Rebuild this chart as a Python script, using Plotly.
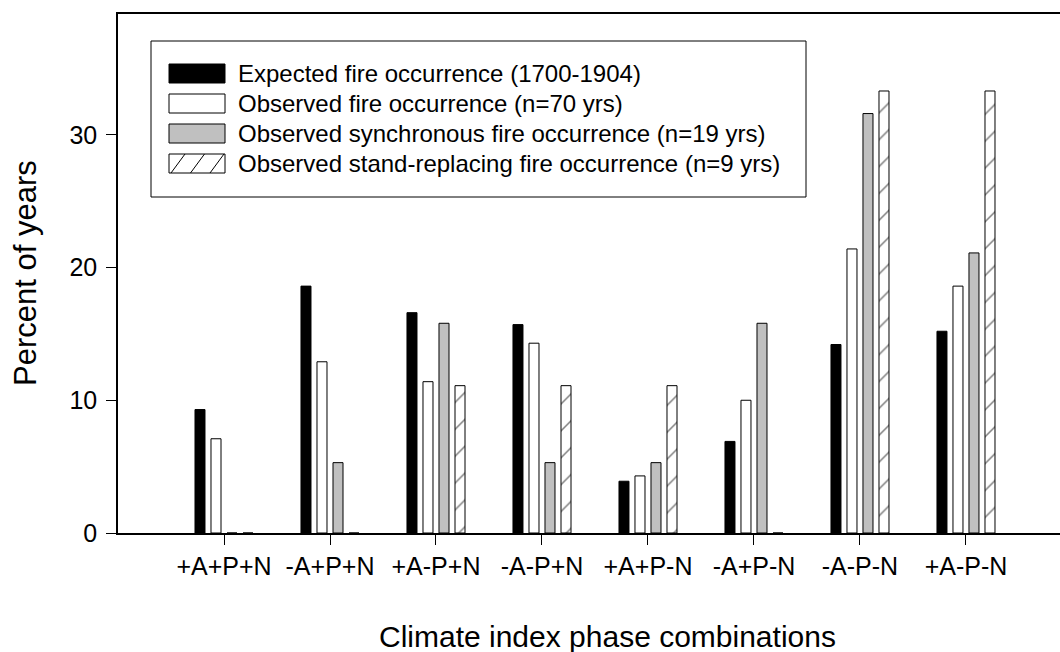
import plotly.graph_objects as go

# ---- data ----
categories = ["+A+P+N", "-A+P+N", "+A-P+N", "-A-P+N", "+A+P-N", "-A+P-N", "-A-P-N", "+A-P-N"]
expected = [9.3, 18.6, 16.6, 15.7, 3.9, 6.9, 14.2, 15.2]
observed = [7.1, 12.9, 11.4, 14.3, 4.3, 10.0, 21.4, 18.6]
synchronous = [0, 5.3, 15.8, 5.3, 5.3, 15.8, 31.6, 21.1]
stand_replacing = [0, 0, 11.1, 11.1, 11.1, 0, 33.3, 33.3]
series_names = [
    "Expected fire occurrence (1700-1904)",
    "Observed fire occurrence (n=70 yrs)",
    "Observed synchronous fire occurrence (n=19 yrs)",
    "Observed stand-replacing fire occurrence (n=9 yrs)",
]
y_ticks = [0, 10, 20, 30]

FONT = "Liberation Sans, Arial, sans-serif"
W, H = 1060, 652
ML, MR, MT, MB = 118, 0, 14, 119
PW, PH = W - ML - MR, H - MT - MB


def px2x(px):
    return (px - ML) / PW


def px2y(py):
    return (H - MB - py) / PH


fig = go.Figure()
line = dict(color="black", width=1)
fig.add_trace(go.Bar(x=categories, y=expected, name=series_names[0],
                     marker=dict(color="black", line=line)))
fig.add_trace(go.Bar(x=categories, y=observed, name=series_names[1],
                     marker=dict(color="white", line=line)))
fig.add_trace(go.Bar(x=categories, y=synchronous, name=series_names[2],
                     marker=dict(color="#c0c0c0", line=line)))
fig.add_trace(go.Bar(x=categories, y=stand_replacing, name=series_names[3],
                     marker=dict(color="white", line=line,
                                 pattern=dict(shape="/", size=19, solidity=0.08,
                                              fgcolor="black", bgcolor="white",
                                              fillmode="overlay"))))

fig.update_traces(showlegend=False)

# ---- custom legend (box, swatches, labels) ----
shapes = []
annotations = []
shapes.append(dict(type="rect", xref="paper", yref="paper",
                   x0=px2x(151), x1=px2x(806), y0=px2y(197), y1=px2y(41),
                   line=dict(color="black", width=1), fillcolor="white", layer="above"))
row_centers = [73.5, 103.5, 133.5, 163.5]
fills = ["black", "white", "#c0c0c0", "white"]
sx0, sx1 = 169, 225
for i, (c, f) in enumerate(zip(row_centers, fills)):
    shapes.append(dict(type="rect", xref="paper", yref="paper",
                       x0=px2x(sx0), x1=px2x(sx1), y0=px2y(c + 9.5), y1=px2y(c - 9.5),
                       line=dict(color="black", width=1), fillcolor=f, layer="above"))
    annotations.append(dict(xref="paper", yref="paper", x=px2x(236), y=px2y(c),
                            xanchor="left", yanchor="middle", showarrow=False,
                            text=series_names[i], font=dict(family=FONT, size=24, color="black")))
# hatch lines inside the fourth swatch
c = row_centers[3]
for x0 in [171, 190.5, 210]:
    shapes.append(dict(type="line", xref="paper", yref="paper",
                       x0=px2x(x0), x1=px2x(x0 + 14), y0=px2y(c + 9.5), y1=px2y(c - 9.5),
                       line=dict(color="black", width=1), layer="above"))

# ---- axis titles ----
annotations.append(dict(xref="paper", yref="paper", x=px2x(607), y=px2y(636),
                        xanchor="center", yanchor="middle", showarrow=False,
                        text="Climate index phase combinations",
                        font=dict(family=FONT, size=30, color="black")))
annotations.append(dict(xref="paper", yref="paper", x=px2x(25), y=px2y(273),
                        xanchor="center", yanchor="middle", showarrow=False, textangle=-90,
                        text="Percent of years",
                        font=dict(family=FONT, size=31, color="black")))

fig.update_layout(
    width=W, height=H,
    margin=dict(l=ML, r=MR, t=MT, b=MB, autoexpand=False),
    paper_bgcolor="white", plot_bgcolor="white",
    barmode="group", bargap=0.396, bargroupgap=0.375,
    font=dict(family=FONT, size=25, color="black"),
    shapes=shapes, annotations=annotations,
    showlegend=False,
)
fig.update_xaxes(
    type="category", range=[-1, 7.887],
    showline=True, linecolor="black", linewidth=1.5, mirror=True,
    ticks="outside", ticklen=10, tickwidth=1.2, tickcolor="black",
    showgrid=False, zeroline=False,
    tickfont=dict(family=FONT, size=25, color="black"),
)
fig.update_yaxes(
    range=[0, 39.1], tickvals=y_ticks,
    showline=True, linecolor="black", linewidth=1.5, mirror=False,
    ticks="outside", ticklen=10, tickwidth=1.2, tickcolor="black",
    showgrid=False, zeroline=False, ticklabelstandoff=4,
    tickfont=dict(family=FONT, size=25, color="black"),
)

fig.write_html("out.html", config={"displayModeBar": False},
               post_script="document.body.style.margin='0';document.body.style.overflow='hidden';")
